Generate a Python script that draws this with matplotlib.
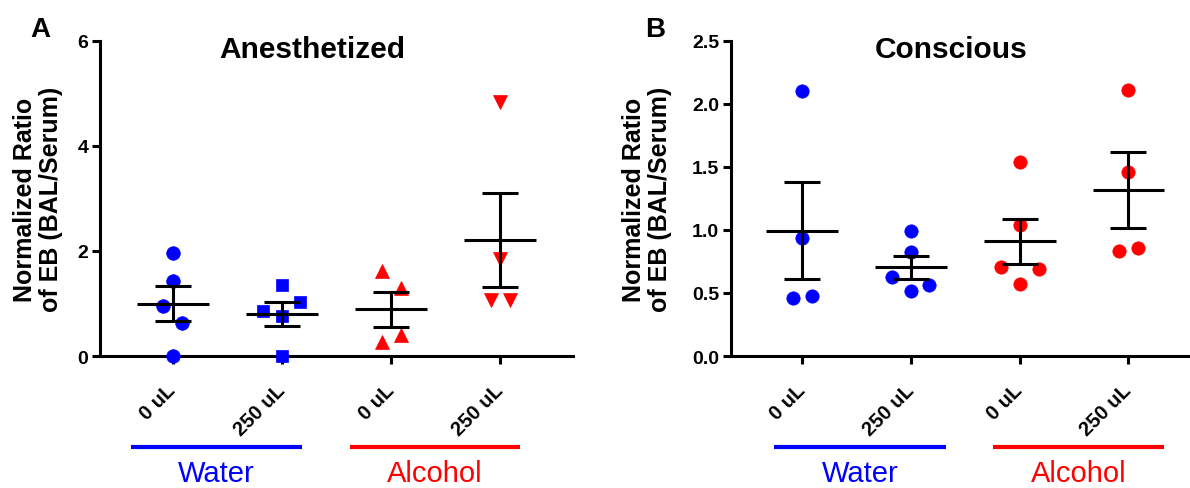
import matplotlib
matplotlib.use("Agg")
import matplotlib.pyplot as plt
import matplotlib.transforms as mtransforms
import numpy as np

plt.rcParams['font.family'] = ['Liberation Sans', 'DejaVu Sans']

# --- data ---
groups = ["0 uL", "250 uL", "0 uL", "250 uL"]

a_water_0 = [1.96, 1.42, 0.96, 0.62, 0.0]
a_water_250 = [1.36, 1.02, 0.855, 0.76, 0.0]
a_alc_0 = [1.61, 1.29, 0.40, 0.26]
a_alc_250 = [4.84, 1.85, 1.06, 1.06]

b_water_0 = [2.10, 0.934, 0.459, 0.475]
b_water_250 = [0.992, 0.823, 0.628, 0.559, 0.514]
b_alc_0 = [1.536, 1.042, 0.707, 0.691, 0.567]
b_alc_250 = [2.111, 1.462, 0.836, 0.855]

# horizontal scatter of the points inside each column (layout only)
a_jit = [[0, 0, -0.09, 0.09, 0], [0, 0.17, -0.17, 0, 0],
         [-0.08, 0.09, 0.09, -0.08], [0, 0, -0.09, 0.09]]
b_jit = [[0, 0, -0.085, 0.09], [0, 0, -0.175, 0.17, 0],
         [0, 0, -0.175, 0.175, 0], [0, 0, -0.09, 0.09]]

BLUE = "#0000FF"
RED = "#FF0000"
LW = 2.2

fig = plt.figure(figsize=(11.9, 4.89), dpi=100)
W, H = 1190.0, 489.0

def px_axes(l, r, t, b):
    return [l / W, 1 - b / H, (r - l) / W, (b - t) / H]

axA = fig.add_axes(px_axes(100, 573, 41.7, 357))
axB = fig.add_axes(px_axes(731, 1190, 41.7, 357))


def draw_panel(ax, sets, jit, markers, sizes, colors, ylim, yticks, fmt, xlim):
    for i, vals in enumerate(sets):
        v = np.array(vals)
        x = i + np.array(jit[i])
        ax.plot(x, v, linestyle="none", marker=markers[i], ms=sizes[i],
                color=colors[i], mec=colors[i], mew=0.5, clip_on=False, zorder=3)
        m = v.mean()
        sem = v.std(ddof=1) / np.sqrt(len(v))
        ax.plot([i - 0.33, i + 0.33], [m, m], color="black", lw=LW, zorder=4,
                solid_capstyle="butt")
        ax.plot([i, i], [m - sem, m + sem], color="black", lw=LW, zorder=4,
                solid_capstyle="butt")
        for yy in (m - sem, m + sem):
            ax.plot([i - 0.165, i + 0.165], [yy, yy], color="black", lw=LW,
                    zorder=4, solid_capstyle="butt")
    ax.set_ylim(*ylim)
    ax.set_xlim(*xlim)
    ax.set_yticks(yticks)
    ax.set_yticklabels([fmt.format(t) for t in yticks], fontsize=14,
                       fontweight="bold")
    ax.set_xticks(range(len(groups)))
    ax.set_xticklabels(groups, rotation=45, ha="right", va="center",
                       rotation_mode="anchor", fontsize=14.5, fontweight="bold")
    off = mtransforms.ScaledTranslation(10 / 100, 0, fig.dpi_scale_trans)
    for lbl in ax.get_xticklabels():
        lbl.set_transform(lbl.get_transform() + off)
    for s in ("top", "right"):
        ax.spines[s].set_visible(False)
    for s in ("left", "bottom"):
        ax.spines[s].set_linewidth(LW)
    ax.tick_params(axis="both", width=LW, length=5.5, direction="out")
    ax.tick_params(axis="y", pad=3)
    ax.tick_params(axis="x", pad=17)


draw_panel(axA, [a_water_0, a_water_250, a_alc_0, a_alc_250], a_jit,
           ["o", "s", "^", "v"], [9.8, 9.2, 10.2, 10.2], [BLUE, BLUE, RED, RED],
           (0, 6), [0, 2, 4, 6], "{:g}", (-0.665, 3.665))
draw_panel(axB, [b_water_0, b_water_250, b_alc_0, b_alc_250], b_jit,
           ["o", "o", "o", "o"], [9.6] * 4, [BLUE, BLUE, RED, RED],
           (0, 2.5), [0, 0.5, 1.0, 1.5, 2.0, 2.5], "{:.1f}", (-0.656, 3.567))

# titles
for ax, title, xc in ((axA, "Anesthetized", 1.28), (axB, "Conscious", 1.37)):
    tr = mtransforms.blended_transform_factory(ax.transData, ax.transAxes)
    ax.text(xc, 0.947, title, transform=tr, ha="center", va="baseline",
            fontsize=21.5, fontweight="bold")

# group bars under the tick labels
for ax, spans in ((axA, [(-0.38, 1.18), (1.62, 3.18)]),
                  (axB, [(-0.26, 1.32), (1.75, 3.33)])):
    tr = mtransforms.blended_transform_factory(ax.transData, ax.transAxes)
    for (x0, x1), name, col in zip(spans, ["Water", "Alcohol"], [BLUE, RED]):
        ax.plot([x0, x1], [-0.289, -0.289], transform=tr, color=col, lw=3,
                clip_on=False, solid_capstyle="butt")
        ax.text((x0 + x1) / 2, -0.37, name, transform=tr, ha="center",
                va="center", fontsize=21, color=col)

# y labels
ylab = "Normalized Ratio\nof EB (BAL/Serum)"
fig.text(38 / W, 1 - 199.5 / H, ylab, rotation=90, ha="center", va="center",
         fontsize=18, fontweight="bold", linespacing=1.15, multialignment="center")
fig.text(647 / W, 1 - 199.5 / H, ylab, rotation=90, ha="center", va="center",
         fontsize=18, fontweight="bold", linespacing=1.15, multialignment="center")

# panel letters
fig.text(30 / W, 1 - 37 / H, "A", fontsize=20, fontweight="bold", va="baseline")
fig.text(645 / W, 1 - 37 / H, "B", fontsize=20, fontweight="bold", va="baseline")

fig.savefig("out.png", dpi=100)
